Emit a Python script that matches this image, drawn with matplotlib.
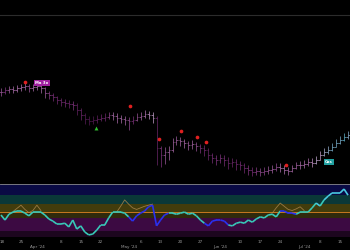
import numpy as np
import matplotlib
matplotlib.use("Agg")
import matplotlib.pyplot as plt
from matplotlib.collections import LineCollection
from matplotlib.colors import LinearSegmentedColormap, Normalize

# ---------------- data ----------------
closes = [108,110,111,110,112,113,114,112,113,114,112,107,105,103,100,98,97,96,95,90,
          85,81,79,80,81,82,83,85,84,82,81,80,79,80,83,84,86,85,82,52,
          45,48,50,58,60,59,57,55,56,54,52,50,45,42,40,42,40,37,38,36,
          35,32,30,28,29,28,29,30,31,33,32,30,29,32,35,35,36,38,37,40,
          45,48,50,53,57,60,63,65]
highs = [112,113,114,114,115,116,117,116,116,117,116,113,109,107,104,102,101,100,99,97,
         92,87,84,84,85,86,87,88,88,87,85,84,83,84,87,88,90,89,88,84,
         54,53,54,62,64,63,61,59,60,58,56,55,52,47,45,46,45,43,42,41,
         39,37,35,33,33,32,33,34,35,37,37,35,33,35,38,39,40,42,42,44,
         49,52,54,57,61,64,67,69]
lows = [104,106,107,107,108,109,110,108,109,110,107,102,101,99,96,94,93,92,90,85,
        80,76,75,76,77,79,79,81,80,77,77,75,70,76,79,80,82,81,77,35,
        33,36,40,48,55,54,52,50,51,49,47,44,40,37,35,37,34,31,33,30,
        30,27,25,24,25,24,25,26,27,29,28,26,25,28,31,31,32,34,33,36,
        40,44,46,49,53,56,59,61]

osc = [41.5,32,43,47,49,49,45,40,47,47,47,41.5,34,30,24.5,24.5,26,19,32,15,
       21,9.5,4,5.5,13,22.6,22.6,36,47,47,47,45,38,30,40,45,49,57,60,21,
       32,41.5,45,45,43,45,47,43,45,40,32,26,21,30,32,32,30,22.6,21,26,
       28,26,32,28,34,38,36,41.5,43,38,49,49,45,45,43,47,47,47,55,64,
       58.5,70,77,83,83,83,90.5,79]
nan = np.nan
signal = [nan,nan,nan,48,54,60,52,46,50,60,50,nan,nan,nan,nan,nan,nan,nan,nan,nan,
          nan,nan,nan,nan,nan,nan,nan,nan,nan,47,58,70,62,55,52,55,58,60,62,nan,
          nan,nan,nan,nan,nan,nan,nan,nan,nan,nan,nan,nan,nan,nan,nan,nan,nan,nan,nan,nan,
          nan,nan,nan,nan,nan,nan,nan,nan,45,55,64,58,52,50,53,57,50,nan,nan,nan,
          nan,nan,nan,nan,nan,nan,nan,nan]
bear_spans = [(32, 42), (51, 57), (70, 74)]

red_dot_idx = [6, 32.3, 39.6, 45.1, 49.1, 51.4, 71.4]
red_dot_px = [118, 94, 61, 69, 63, 58, 35]
green_tri_idx = [23.8]
green_tri_px = [72]
label_a = ("Ma 3o", 10.3, 117)
label_b = ("Cas", 82.2, 38)

week_ticks = [0, 5, 15, 20, 25, 35, 40, 45, 50, 60, 65, 70, 80, 85]
week_labels = ["18", "25", "8", "15", "22", "6", "13", "20", "27", "10", "17", "24", "8", "15"]
month_ticks = [9, 32, 55, 76]
month_labels = ["Apr '24", "May '24", "Jun '24", "Jul '24"]

# ---------------- figure ----------------
W, H = 350, 250
fig = plt.figure(figsize=(3.5, 2.5), dpi=100, facecolor="black")

n = len(closes)
idx = np.arange(n)
xlim = (-0.25, 87.5)

ax = fig.add_axes([0, 67 / H, 1, 183 / H])
ax.set_facecolor("black")
for s in ax.spines.values():
    s.set_visible(False)
ax.set_xticks([]); ax.set_yticks([])
ax.set_xlim(*xlim)
ax.set_ylim(17, 200)
ax.axhline(185, color="#2c2c2c", lw=0.8)

cmap = LinearSegmentedColormap.from_list(
    "bars", [(0, "#4a164a"), (0.3, "#7a2e78"), (0.5, "#b478b4"), (0.62, "#c8a8d0"), (1, "#3cb4c8")])
norm = Normalize(0, 100)
bar_cols = [cmap(norm(v)) for v in osc]
opens = [closes[0]] + closes[:-1]
ax.vlines(idx, lows, highs, colors=bar_cols, lw=0.5)
ax.hlines(opens, idx - 0.45, idx, colors=bar_cols, lw=0.5)
ax.hlines(closes, idx, idx + 0.45, colors=bar_cols, lw=0.5)

ax.scatter(red_dot_idx, red_dot_px, s=7, color="#e02020", zorder=5, linewidths=0)
ax.scatter(green_tri_idx, green_tri_px, s=8, marker="^", color="#30c030", zorder=5, linewidths=0)
ax.text(label_a[1], label_a[2], label_a[0], fontsize=2.8, color="white", fontweight="bold",
        ha="center", va="center", bbox=dict(boxstyle="square,pad=0.3", fc="#a020a0", ec="none"))
ax.text(label_b[1], label_b[2], label_b[0], fontsize=2.8, color="white", fontweight="bold",
        ha="center", va="center", bbox=dict(boxstyle="square,pad=0.3", fc="#20a0a0", ec="none"))

# ---------------- oscillator ----------------
ox = fig.add_axes([0, 13 / H, 1, 53 / H])
ox.set_facecolor("black")
for s in ox.spines.values():
    s.set_visible(False)
ox.spines["top"].set_visible(True)
ox.spines["top"].set_color("#8a8a8a")
ox.spines["top"].set_linewidth(0.6)
ox.set_xticks([]); ox.set_yticks([])
ox.set_xlim(*xlim)
ox.set_ylim(0, 100)
bands = [(0, 11, "#1c061e"), (11, 36, "#3c0a42"), (36, 47, "#302a0c"),
         (47, 62, "#423c0c"), (62, 79, "#0a3838"), (79, 100, "#0a0a44")]
for lo, hi, c in bands:
    ox.axhspan(lo, hi, color=c, lw=0)
ox.axhline(47, color="#c87820", lw=0.7)

ox.plot(idx, signal, color="#b08a50", lw=0.6, alpha=0.8)

pts = np.column_stack([idx, osc])
segs = np.stack([pts[:-1], pts[1:]], axis=1)
seg_cols = []
for i in range(n - 1):
    bear = any(a <= i < b for a, b in bear_spans)
    if bear:
        seg_cols.append("#2a30f0")
    elif osc[i] > 60:
        seg_cols.append("#48c8e0")
    else:
        seg_cols.append("#38c8b8")
lc = LineCollection(segs, colors=seg_cols, linewidths=1.2)
ox.add_collection(lc)

for t, l in zip(week_ticks, week_labels):
    ox.text(max(t, 0.3), -0.1, l, transform=ox.get_xaxis_transform(), fontsize=3.0,
            color="#9a9a9a", ha="center", va="center")
for t, l in zip(month_ticks, month_labels):
    ox.text(t, -0.18, l, transform=ox.get_xaxis_transform(), fontsize=3.0,
            color="#9a9a9a", ha="center", va="center")

fig.savefig("out.png", dpi=100, facecolor="black")
